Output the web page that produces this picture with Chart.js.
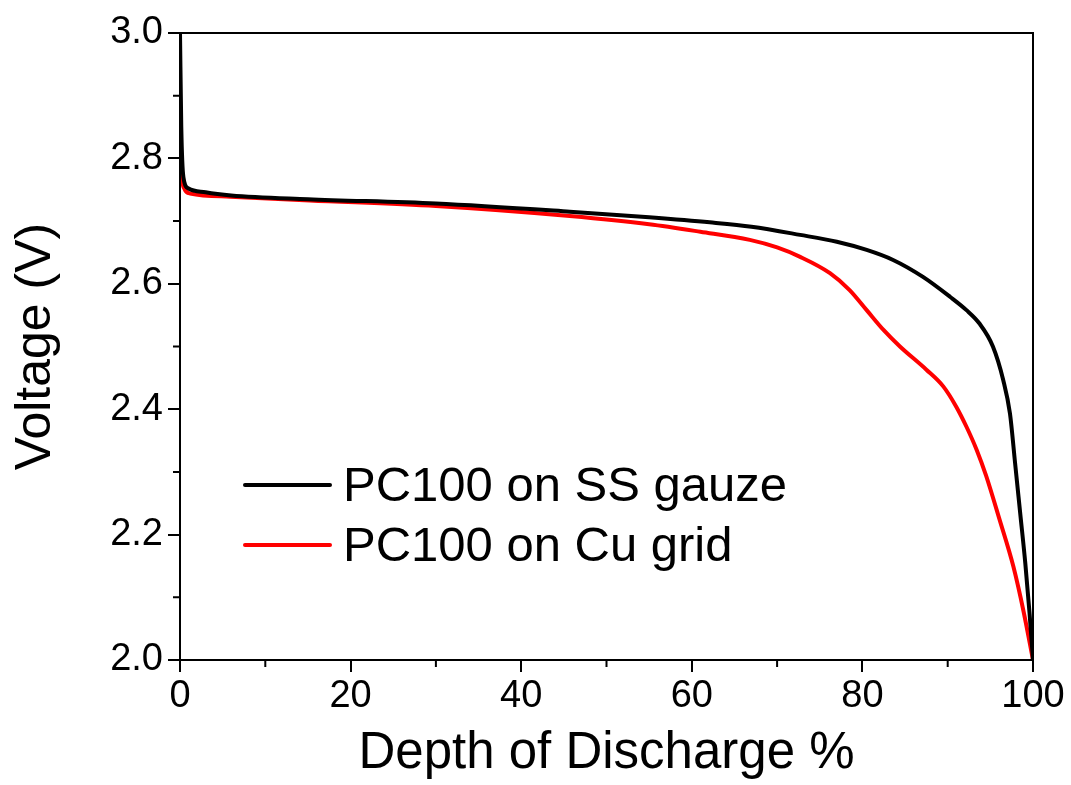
<!DOCTYPE html>
<html>
<head>
<meta charset="utf-8">
<title>Depth of Discharge</title>
<script src="https://cdn.jsdelivr.net/npm/chart.js@4.4.1/dist/chart.umd.min.js"></script>
<style>
    body { margin: 0; background: #fff; }
    #contenedor { width: 1071px; height: 785px; }
</style>
</head>
<body>
<div id="contenedor">
    <canvas id="descarga" width="1071" height="785"></canvas>
</div>
<script>
// Datos
const nombres = ['PC100 on SS gauze', 'PC100 on Cu grid'];
const colores = ['#000000', '#ff0000'];

const xGasa = [0, 0.15, 0.4, 1, 3, 6, 15, 30, 45.7, 55, 62.1, 67, 72.7, 77, 80.5, 83.6, 87.1, 90.3, 92.2, 93.7, 95.3, 96.5, 97.3, 97.9, 98.5, 99.1, 99.6, 100];
const yGasa = [3.0, 2.85, 2.77, 2.752, 2.746, 2.741, 2.735, 2.728, 2.715, 2.706, 2.698, 2.691, 2.678, 2.667, 2.654, 2.638, 2.611, 2.579, 2.558, 2.537, 2.50, 2.447, 2.393, 2.314, 2.234, 2.154, 2.074, 2.0];

const xCobre = [0, 0.15, 0.5, 1.2, 5.9, 15.2, 30, 45.7, 55, 61, 66.8, 70, 72.7, 76.2, 78.5, 80.5, 82.5, 84.4, 87.5, 89.5, 91.0, 92.2, 93.4, 94.5, 96.1, 97.7, 98.9, 100];
const yCobre = [2.84, 2.78, 2.752, 2.744, 2.739, 2.733, 2.724, 2.708, 2.695, 2.683, 2.67, 2.658, 2.643, 2.617, 2.590, 2.558, 2.526, 2.500, 2.463, 2.436, 2.404, 2.372, 2.335, 2.294, 2.223, 2.149, 2.077, 2.0];

const ticksX = [0, 20, 40, 60, 80, 100];
const ticksY = [2.0, 2.2, 2.4, 2.6, 2.8, 3.0];
const menoresX = [10, 30, 50, 70, 90];
const menoresY = [2.1, 2.3, 2.5, 2.7, 2.9];

const fuente = '"Liberation Sans", Arial, sans-serif';

document.addEventListener('DOMContentLoaded', function() {
    graficarDescarga();
});

function armarPuntos(xs, ys) {
    return xs.map((x, i) => ({ x: x, y: ys[i] }));
}

// Marco, ticks menores y leyenda dentro del area
const extras = {
    id: 'extras',
    afterDraw(chart) {
        const { ctx, chartArea, scales } = chart;
        ctx.save();

        //Marco superior y derecho
        ctx.strokeStyle = '#000';
        ctx.lineWidth = 2;
        ctx.strokeRect(chartArea.left, chartArea.top, chartArea.right - chartArea.left, chartArea.bottom - chartArea.top);

        //Ticks menores
        ctx.beginPath();
        menoresX.forEach(v => {
            const px = scales.x.getPixelForValue(v);
            ctx.moveTo(px, chartArea.bottom);
            ctx.lineTo(px, chartArea.bottom + 7);
        });
        menoresY.forEach(v => {
            const py = scales.y.getPixelForValue(v);
            ctx.moveTo(chartArea.left, py);
            ctx.lineTo(chartArea.left - 7, py);
        });
        ctx.stroke();

        //Leyenda
        ctx.font = '49px ' + fuente;
        ctx.textBaseline = 'middle';
        ctx.lineCap = 'round';
        chart.data.datasets.forEach((d, i) => {
            const y = chartArea.top + 452 + i * 60;
            ctx.strokeStyle = d.borderColor;
            ctx.lineWidth = 4;
            ctx.beginPath();
            ctx.moveTo(chartArea.left + 65, y);
            ctx.lineTo(chartArea.left + 150, y);
            ctx.stroke();
            ctx.fillStyle = '#000';
            ctx.fillText(d.label, chartArea.left + 163, y + 2);
        });
        ctx.restore();
    }
};

function graficarDescarga() {
    const ctx = document.getElementById('descarga').getContext('2d');
    let myChart = new Chart(ctx, {
        type: 'line',
        data: {
            datasets: [{
                label: nombres[0],
                data: armarPuntos(xGasa, yGasa),
                borderColor: colores[0],
                borderWidth: 4,
                pointRadius: 0,
                cubicInterpolationMode: 'monotone'
            }, {
                label: nombres[1],
                data: armarPuntos(xCobre, yCobre),
                borderColor: colores[1],
                borderWidth: 4,
                pointRadius: 0,
                cubicInterpolationMode: 'monotone'
            }]
        },
        options: {
            responsive: false,
            animation: false,
            layout: {
                padding: { top: 33, right: 38, left: 0, bottom: 0 }
            },
            plugins: {
                legend: { display: false },
                tooltip: { enabled: false }
            },
            scales: {
                x: {
                    type: 'linear',
                    min: 0,
                    max: 100,
                    afterBuildTicks: scale => {
                        scale.ticks = ticksX.map(v => ({ value: v }));
                    },
                    afterFit: scale => {
                        scale.height = 125;
                    },
                    ticks: {
                        color: '#000',
                        font: { family: fuente, size: 38 },
                        padding: 2
                    },
                    grid: {
                        drawOnChartArea: false,
                        tickLength: 12,
                        tickColor: '#000',
                        lineWidth: 2
                    },
                    border: { color: '#000', width: 2 },
                    title: {
                        display: true,
                        text: 'Depth of Discharge %',
                        color: '#000',
                        font: { family: fuente, size: 51 },
                        padding: { top: 0, bottom: 0 }
                    }
                },
                y: {
                    min: 2.0,
                    max: 3.0,
                    afterBuildTicks: scale => {
                        scale.ticks = ticksY.map(v => ({ value: v }));
                    },
                    afterFit: scale => {
                        scale.width = 180;
                    },
                    ticks: {
                        color: '#000',
                        font: { family: fuente, size: 38 },
                        padding: 5,
                        callback: v => v.toFixed(1)
                    },
                    grid: {
                        drawOnChartArea: false,
                        tickLength: 12,
                        tickColor: '#000',
                        lineWidth: 2
                    },
                    border: { color: '#000', width: 2 },
                    title: {
                        display: true,
                        text: 'Voltage (V)',
                        color: '#000',
                        font: { family: fuente, size: 50 },
                        padding: { top: 6, bottom: 0 }
                    }
                }
            }
        },
        plugins: [extras]
    });
}
</script>
</body>
</html>
